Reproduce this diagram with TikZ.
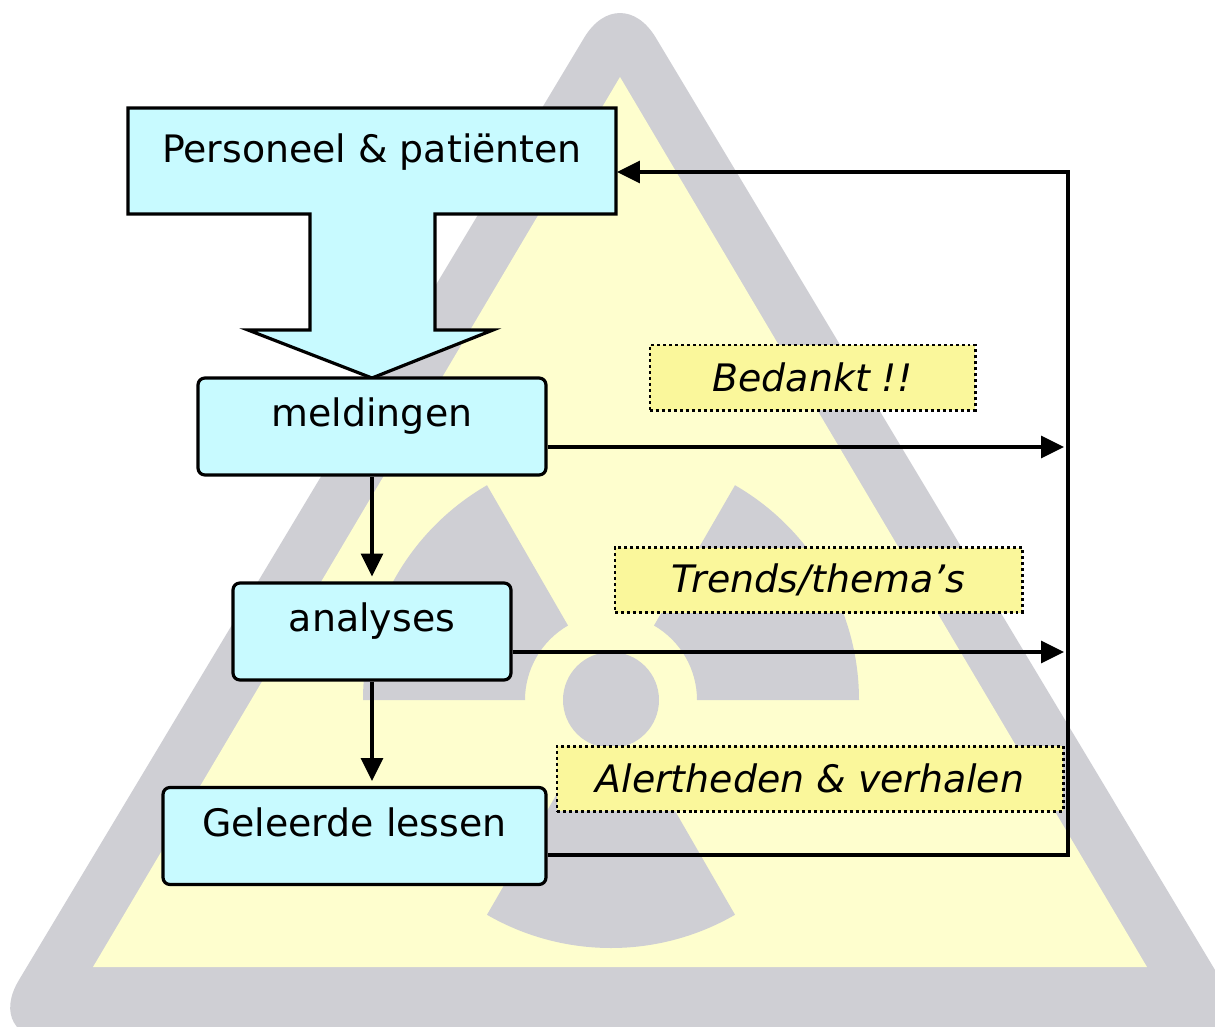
\documentclass[tikz,border=0pt]{standalone}
\usepackage{fontspec}
\setmainfont{DejaVu Sans}
\usepackage{xcolor}
\usepackage{tikz}
\usetikzlibrary{arrows.meta}

\definecolor{framegrey}{RGB}{207,207,212}
\definecolor{signyellow}{RGB}{254,254,206}
\definecolor{boxblue}{RGB}{200,250,255}
\definecolor{tagyellow}{RGB}{250,247,155}

\begin{document}
\begin{tikzpicture}[x=1bp,y=-1bp,line width=3.2pt,>={Triangle[length=23pt,width=22pt]},
                    font=\fontsize{38}{45}\selectfont,
                    main node/.style={rectangle,rounded corners=7pt,fill=boxblue,draw,inner sep=0pt,minimum height=97bp,text height=48bp,text depth=48bp},
                    tag node/.style={rectangle,fill=tagyellow,draw,line width=3pt,dash pattern=on 3pt off 3pt,font=\fontsize{38}{45}\selectfont\itshape,minimum height=65bp}]

 \useasboundingbox (0,0) rectangle (1215,1027);

 \begin{scope}
 \clip (0,0) rectangle (1215,1027);
 \fill[white] (0,0) rectangle (1215,1027);
 \fill[framegrey,rounded corners=70pt] (620,-22) -- (1257,1040) -- (-17,1040) -- cycle;
 \fill[signyellow] (620,77) -- (1147,967) -- (93,967) -- cycle;
 \fill[framegrey] (611,700) circle[radius=48];
 \foreach \a in {-60,60,180}
   \fill[framegrey,shift={(611,700)}] (\a:248) arc[start angle=\a,end angle=\a+60,radius=248]
     -- (\a+60:86) arc[start angle=\a+60,end angle=\a,radius=86] -- cycle;
 \end{scope}

 \draw[fill=boxblue] (128,108) -- (616,108) -- (616,214) -- (435,214) -- (435,330) -- (493,330)
   -- (372,378) -- (248,330) -- (310,330) -- (310,214) -- (128,214) -- cycle;

 \node[anchor=base] (0) at (372,162) {Personeel \& patiënten};

 \node[main node,minimum width=348bp] (1) at (372,426.5) {meldingen};

 \node[main node,minimum width=278bp] (2) at (372,631.5) {analyses};

 \node[main node,minimum width=383bp] (3) at (354.5,836) {Geleerde lessen};

 \node[tag node,minimum width=325bp] (label1) at (812.5,377.5) {Bedankt !!};

 \node[tag node,minimum width=407bp] (label2) at (818.5,580) {Trends/thema's};

 \node[tag node,minimum width=506bp] (label3) at (810,778.5) {Alertheden \& verhalen};

 \coordinate (back0) at (1068,172);
 \coordinate (back1) at (1068,447);
 \coordinate (back2) at (1068,652);
 \coordinate (back3) at (1068,855);
 \coordinate (in0) at (617,172);

 \path[->,shorten >=5pt]
    (1) edge (2)
    (2.south) edge (2.south |- 3.north);

 \draw[->,shorten >=4pt] (1.east |- back1) -- (back1);
 \draw[->,shorten >=4pt] (2.east |- back2) -- (back2);
 \draw[->] (3.east |- back3) -- (back3) -- (back0) -- (in0);

\end{tikzpicture}
\end{document}
